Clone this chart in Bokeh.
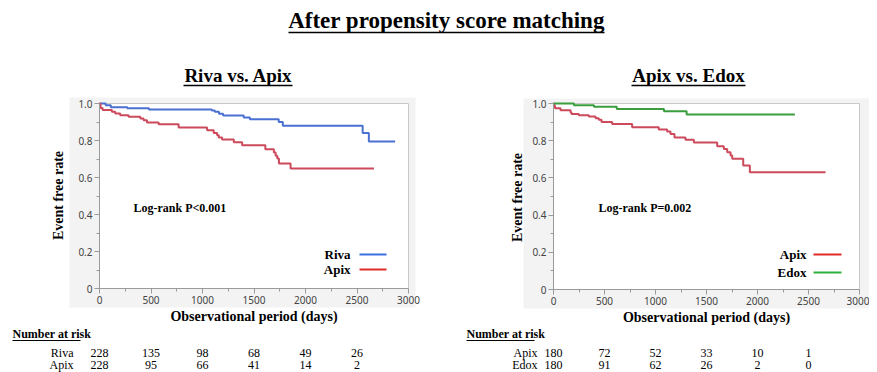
import math
from bokeh.plotting import figure
from bokeh.layouts import column, row
from bokeh.models import Range1d, FixedTicker, LinearAxis, CustomJSTickFormatter
from bokeh.core.properties import value
from bokeh.embed import file_html
from bokeh.resources import INLINE

# ---------------- data ----------------
main_title = "After propensity score matching"
left_title = "Riva vs. Apix"
right_title = "Apix vs. Edox"
x_label = "Observational period (days)"
y_label = "Event free rate"

# Left panel: Riva vs. Apix (Kaplan-Meier step points)
riva_t = [0, 60, 110, 270, 480, 1090, 1120, 1160, 1200, 1400, 1460, 1740, 1780, 2555, 2615]
riva_s = [1.0, 0.99, 0.98, 0.975, 0.968, 0.962, 0.955, 0.945, 0.935, 0.925, 0.915, 0.90, 0.88, 0.84, 0.795]
riva_end = 2870

apix1_t = [0, 10, 30, 120, 153, 201, 282, 396, 428, 461, 574, 768, 1045, 1109, 1142, 1158, 1190,
           1304, 1385, 1610, 1693, 1710, 1726, 1742, 1855]
apix1_s = [1.0, 0.976, 0.965, 0.955, 0.946, 0.937, 0.928, 0.919, 0.91, 0.897, 0.888, 0.87, 0.856,
           0.841, 0.829, 0.816, 0.805, 0.79, 0.775, 0.753, 0.735, 0.717, 0.703, 0.676, 0.649]
apix1_end = 2665

# Right panel: Apix vs. Edox
apix2_t = [0, 8, 15, 69, 167, 176, 248, 346, 412, 444, 471, 575, 771, 1032, 1114, 1147, 1186, 1294,
           1376, 1605, 1670, 1703, 1736, 1752, 1860, 1925]
apix2_s = [1.0, 0.988, 0.975, 0.964, 0.953, 0.944, 0.937, 0.93, 0.921, 0.912, 0.9, 0.89, 0.872, 0.86,
           0.85, 0.836, 0.817, 0.805, 0.79, 0.77, 0.756, 0.738, 0.72, 0.703, 0.667, 0.631]
apix2_end = 2667

edox_t = [0, 200, 397, 620, 1083, 1305]
edox_s = [1.0, 0.991, 0.982, 0.971, 0.959, 0.941]
edox_end = 2366

x_ticks = [0, 500, 1000, 1500, 2000, 2500, 3000]
x_minor = [250, 750, 1250, 1750, 2250, 2750]
y_ticks = [0, 0.2, 0.4, 0.6, 0.8, 1.0]
y_minor = [0.1, 0.3, 0.5, 0.7, 0.9]

risk_times = [0, 500, 1000, 1500, 2000, 2500]
left_groups = ["Riva", "Apix"]
left_risk = [[228, 135, 98, 68, 49, 26], [228, 95, 66, 41, 14, 2]]
right_groups = ["Apix", "Edox"]
right_risk = [[180, 72, 52, 33, 10, 1], [180, 91, 62, 26, 2, 0]]

left_p = "Log-rank  P<0.001"
right_p = "Log-rank  P=0.002"

# ---------------- style ----------------
SERIF = value("Liberation Serif")
C_BLUE = "#4a70d2"
C_RED = "#cc4a5c"
C_GREEN = "#3a9e3e"
L_BLUE = "#3a6fe0"
L_RED = "#e02a2a"
L_GREEN = "#2eb03a"
GRAY_BG = "#f3f3f3"
AX_GRAY = "#9a9a9a"


def txt(p, x, y, s, size, bold=False, align="center", angle=0.0, font=SERIF, color="black"):
    p.text(x=[x], y=[y], text=[s], text_font=font, text_font_style="bold" if bold else "normal",
           text_font_size=size, text_align=align, text_baseline="middle", angle=angle,
           text_color=color)


def panel(fig_w, fig_h, fx0, fx1, fyt, fyb, spec):
    """Panel whose frame fills the whole figure; the axes sit at fixed data locations."""
    sx = (x_ticks[-1] - x_ticks[0]) / (fx1 - fx0)
    sy = (y_ticks[-1] - y_ticks[0]) / (fyb - fyt)

    def X(px):
        return x_ticks[0] + (px - fx0) * sx

    def Y(py):
        return y_ticks[-1] - (py - fyt) * sy

    p = figure(width=fig_w, height=fig_h, x_range=Range1d(X(0), X(fig_w)),
               y_range=Range1d(Y(fig_h), Y(0)), x_axis_location=None, y_axis_location=None,
               output_backend="svg", toolbar_location=None, tools="", min_border=0)
    p.background_fill_color = "white"
    p.border_fill_color = "white"
    p.outline_line_color = None
    p.grid.visible = False

    # light gray chart background and white plotting area with light border
    g = spec["gray"]
    p.quad(left=[X(g[0])], right=[X(g[1])], top=[Y(g[2])], bottom=[Y(g[3])],
           fill_color=GRAY_BG, line_color=None)
    p.quad(left=[x_ticks[0]], right=[x_ticks[-1]], bottom=[y_ticks[0]], top=[y_ticks[-1]],
           fill_color="white", line_color="#c8c8c8", line_width=1)

    # axes
    xa = LinearAxis(fixed_location=y_ticks[0], bounds=(x_ticks[0], x_ticks[-1]),
                    ticker=FixedTicker(ticks=x_ticks, minor_ticks=x_minor))
    ya = LinearAxis(fixed_location=x_ticks[0], bounds=(y_ticks[0], y_ticks[-1]),
                    ticker=FixedTicker(ticks=y_ticks, minor_ticks=y_minor),
                    formatter=CustomJSTickFormatter(code="return tick == 0 ? '0' : tick.toFixed(1)"))
    for ax in (xa, ya):
        ax.axis_line_color = AX_GRAY
        ax.major_tick_line_color = AX_GRAY
        ax.minor_tick_line_color = AX_GRAY
        ax.major_tick_out = 5
        ax.major_tick_in = 0
        ax.minor_tick_out = 3
        ax.minor_tick_in = 0
        ax.major_label_text_font = "Noto Sans"
        ax.major_label_text_font_size = "10px"
        ax.major_label_text_color = "#444444"
        ax.major_label_standoff = 2
    p.add_layout(xa, "below")
    p.add_layout(ya, "left")

    # curves
    for t, s, end, col in spec["curves"]:
        p.step(t + [end], s + [s[-1]], mode="after", line_color=col, line_width=2)

    # legend: name then line sample
    for name, col, tx, lx0, lx1, ly in spec["legend"]:
        txt(p, X(tx), Y(ly), name, "13px", bold=True, align="right")
        p.segment(x0=[X(lx0)], y0=[Y(ly)], x1=[X(lx1)], y1=[Y(ly)], line_color=col, line_width=2)

    # log-rank text
    ptx, pty, ptext = spec["ptext"]
    txt(p, X(ptx), Y(pty), ptext, "12px", bold=True, align="left")

    # subtitle with underline
    stx, sty, su0, su1, suy, stext = spec["subtitle"]
    txt(p, X(stx), Y(sty), stext, "19px", bold=True)
    p.segment(x0=[X(su0)], y0=[Y(suy)], x1=[X(su1)], y1=[Y(suy)], line_color="black", line_width=1.5)

    # axis titles
    ylx, yly = spec["ylab"]
    txt(p, X(ylx), Y(yly), y_label, "14px", bold=True, angle=math.pi / 2)
    xly = spec["xlab"]
    txt(p, (x_ticks[0] + x_ticks[-1]) / 2, Y(xly), x_label, "14px", bold=True)

    # number at risk table
    hx0, hx1, hy, uy = spec["hdr"]
    txt(p, X(hx0), Y(hy), "Number at risk", "12px", bold=True, align="left")
    p.segment(x0=[X(hx0)], y0=[Y(uy)], x1=[X(hx1)], y1=[Y(uy)], line_color="black", line_width=1)
    lab_x, rys = spec["rows"]
    for grp, vals, ry in zip(spec["groups"], spec["risk"], rys):
        txt(p, X(lab_x), Y(ry), grp, "12px", align="right")
        p.text(x=risk_times, y=[Y(ry)] * len(risk_times), text=[str(v) for v in vals],
               text_font=SERIF, text_font_size="12px", text_align="center",
               text_baseline="middle", text_color="black")
    return p


# all positions below are in figure-local pixels (layout only)
left_spec = dict(
    gray=(69, 415, 52, 262),
    curves=[(riva_t, riva_s, riva_end, C_BLUE), (apix1_t, apix1_s, apix1_end, C_RED)],
    legend=[("Riva", L_BLUE, 350, 359, 386, 209), ("Apix", L_RED, 350, 359, 386, 224)],
    ptext=(133, 162, left_p),
    subtitle=(238, 30, 183, 292, 40, left_title),
    ylab=(58, 150),
    xlab=271,
    hdr=(12, 80, 288, 295),
    rows=(73, [307, 319]),
    groups=left_groups, risk=left_risk,
)
right_spec = dict(
    gray=(85, 440, 53, 263),
    curves=[(apix2_t, apix2_s, apix2_end, C_RED), (edox_t, edox_s, edox_end, C_GREEN)],
    legend=[("Apix", L_RED, 368, 375, 403, 209), ("Edox", L_GREEN, 368, 375, 403, 227)],
    ptext=(160, 162, right_p),
    subtitle=(250, 30, 193, 307, 40, right_title),
    ylab=(79, 152),
    xlab=272,
    hdr=(28, 96, 288, 295),
    rows=(99, [307, 319]),
    groups=right_groups, risk=right_risk,
)

left = panel(438, 327, 99, 408, 58, 243, left_spec)
right = panel(431, 327, 115, 421, 58, 244, right_spec)

# ---------------- main title strip ----------------
top = figure(width=877, height=45, x_range=Range1d(0, 877), y_range=Range1d(45, 0),
             x_axis_location=None, y_axis_location=None,
             output_backend="svg", toolbar_location=None, tools="", min_border=0)
top.grid.visible = False
top.outline_line_color = None
top.background_fill_color = "white"
top.border_fill_color = "white"
txt(top, 446, 20, main_title, "23px", bold=True)
top.segment(x0=[288], y0=[32], x1=[604], y1=[32], line_color="black", line_width=1.5)

layout = column(top, row(left, right))
open("out.html", "w").write(file_html(layout, INLINE))
